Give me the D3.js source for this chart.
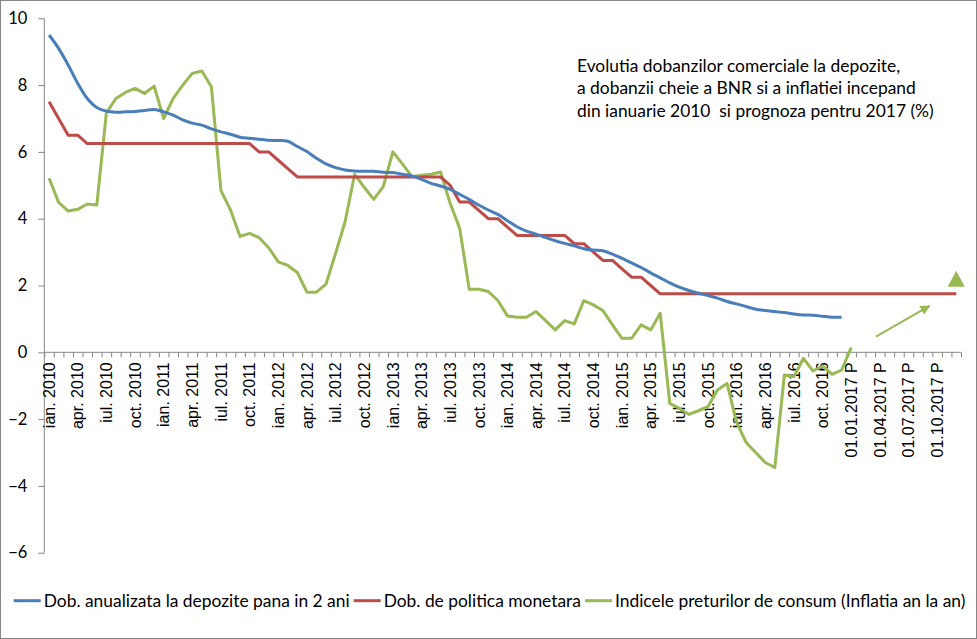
<!DOCTYPE html>
<html><head><meta charset="utf-8">
<script src="https://cdn.jsdelivr.net/npm/d3@7"></script>
<style>
html,body{margin:0;padding:0;background:#fff;}
svg{display:block;}
</style></head>
<body>
<svg id="chart" width="977" height="639"></svg>
<script>
// ---------- DATA ----------
const monthNames = ["ian.","feb.","mar.","apr.","mai","iun.","iul.","aug.","sep.","oct.","nov.","dec."];
const years = [2010, 2011, 2012, 2013, 2014, 2015, 2016];
const forecastLabels = ["01.01.2017 P","01.02.2017 P","01.03.2017 P","01.04.2017 P","01.05.2017 P","01.06.2017 P",
                        "01.07.2017 P","01.08.2017 P","01.09.2017 P","01.10.2017 P","01.11.2017 P","01.12.2017 P"];
const categories = years.flatMap(yr => monthNames.map(m => m + " " + yr)).concat(forecastLabels);

const yTicks = [-6, -4, -2, 0, 2, 4, 6, 8, 10];

const seriesNames = [
  "Dob. anualizata la depozite pana in 2 ani",
  "Dob. de politica monetara",
  "Indicele preturilor de consum (Inflatia an la an)"
];

// Dob. anualizata la depozite pana in 2 ani (ian. 2010 - dec. 2016)
const depositRate = [
  9.50, 9.10, 8.60, 8.05, 7.60, 7.33, 7.22, 7.19, 7.20, 7.21, 7.24, 7.27,
  7.20, 7.10, 6.96, 6.86, 6.80, 6.69, 6.60, 6.53, 6.44, 6.41, 6.38, 6.35,
  6.34, 6.32, 6.16, 6.01, 5.81, 5.64, 5.53, 5.46, 5.43, 5.42, 5.42, 5.39,
  5.38, 5.33, 5.28, 5.18, 5.06, 4.98, 4.88, 4.73, 4.58, 4.41, 4.26, 4.13,
  3.94, 3.76, 3.63, 3.54, 3.44, 3.34, 3.26, 3.19, 3.10, 3.06, 3.04, 2.94,
  2.81, 2.68, 2.54, 2.38, 2.23, 2.08, 1.95, 1.85, 1.77, 1.70, 1.62, 1.52,
  1.45, 1.37, 1.29, 1.25, 1.22, 1.19, 1.15, 1.12, 1.11, 1.08, 1.05, 1.05
];

// Dob. de politica monetara (ian. 2010 - dec. 2017)
const policyRate = [
  7.50, 7.00, 6.50, 6.50, 6.25, 6.25, 6.25, 6.25, 6.25, 6.25, 6.25, 6.25,
  6.25, 6.25, 6.25, 6.25, 6.25, 6.25, 6.25, 6.25, 6.25, 6.25, 6.00, 6.00,
  5.75, 5.50, 5.25, 5.25, 5.25, 5.25, 5.25, 5.25, 5.25, 5.25, 5.25, 5.25,
  5.25, 5.25, 5.25, 5.25, 5.25, 5.25, 5.00, 4.50, 4.50, 4.25, 4.00, 4.00,
  3.75, 3.50, 3.50, 3.50, 3.50, 3.50, 3.50, 3.25, 3.25, 3.00, 2.75, 2.75,
  2.50, 2.25, 2.25, 2.00, 1.75, 1.75, 1.75, 1.75, 1.75, 1.75, 1.75, 1.75,
  1.75, 1.75, 1.75, 1.75, 1.75, 1.75, 1.75, 1.75, 1.75, 1.75, 1.75, 1.75,
  1.75, 1.75, 1.75, 1.75, 1.75, 1.75, 1.75, 1.75, 1.75, 1.75, 1.75, 1.75
];

// Indicele preturilor de consum (ian. 2010 - ian. 2017)
const cpi = [
  5.21, 4.49, 4.23, 4.28, 4.44, 4.41, 7.17, 7.60, 7.78, 7.90, 7.75, 7.97,
  7.00, 7.60, 8.00, 8.35, 8.42, 7.95, 4.84, 4.26, 3.47, 3.56, 3.43, 3.13,
  2.71, 2.60, 2.39, 1.80, 1.80, 2.04, 2.96, 3.91, 5.33, 4.94, 4.58, 4.96,
  6.00, 5.64, 5.26, 5.30, 5.33, 5.40, 4.46, 3.71, 1.89, 1.89, 1.82, 1.55,
  1.09, 1.05, 1.05, 1.22, 0.95, 0.67, 0.95, 0.85, 1.55, 1.42, 1.25, 0.82,
  0.42, 0.42, 0.82, 0.67, 1.17, -1.53, -1.68, -1.86, -1.75, -1.63, -1.13, -0.93,
  -2.10, -2.70, -3.00, -3.30, -3.45, -0.68, -0.73, -0.18, -0.56, -0.41, -0.66, -0.53,
  0.14
];

// Prognoza inflatiei (marker) – category index and value
const forecastMarker = [{idx: 95, value: 2.2}];
// Annotation arrow (category-index units, value units)
const arrowFrom = [86.6, 0.47];
const arrowTo = [92.2, 1.39];

const titleLines = [
  "Evolutia dobanzilor comerciale la depozite,",
  "a dobanzii cheie a BNR si a inflatiei incepand",
  "din ianuarie 2010  si prognoza pentru 2017 (%)"
];

// ---------- STYLE ----------
const colors = ["#4A7EBB", "#BE4B48", "#98B954"];
const axisColor = "#868686";
const font = "Lato, 'Noto Sans', sans-serif";
const labelFont = "'Liberation Sans', Arial, sans-serif";

// ---------- DRAW ----------
const svg = d3.select("#chart");
const W = 977, H = 639;
const plotL = 44.3, plotR = 961, plotT = 18.3, plotB = 552.7;

svg.append("rect").attr("x", 0.5).attr("y", 0.5).attr("width", W - 1).attr("height", H - 1)
  .attr("fill", "#fff").attr("stroke", axisColor).attr("stroke-width", 1);

const x = d3.scaleBand().domain(categories).range([plotL, plotR]).padding(0);
const xIdx = d3.scaleLinear().domain([-0.5, categories.length - 0.5]).range([plotL, plotR]);
const y = d3.scaleLinear().domain([-6, 10]).range([plotB, plotT]);
const cx = i => x(categories[i]) + x.bandwidth() / 2;

// Y axis
const yAxis = svg.append("g").attr("transform", `translate(${plotL},0)`)
  .call(d3.axisLeft(y).tickValues(yTicks).tickSize(6).tickPadding(11).tickFormat(d3.format("d")));
yAxis.select(".domain").attr("stroke", axisColor).attr("d", `M0,${plotT}V${plotB}`);
yAxis.selectAll(".tick line").attr("stroke", axisColor);
yAxis.selectAll(".tick text").attr("fill", "#000").style("font-family", font).style("font-size", "16.5px");

// X axis (at zero) with tick marks on category boundaries
const xBoundaries = d3.scaleLinear().domain([0, categories.length]).range([plotL, plotR]);
const xAxis = svg.append("g").attr("transform", `translate(0,${y(0)})`)
  .call(d3.axisBottom(xBoundaries).tickValues(d3.range(0, categories.length + 1)).tickSize(5).tickFormat(""));
xAxis.select(".domain").attr("stroke", axisColor).attr("d", `M${plotL},0H${plotR}`);
xAxis.selectAll(".tick line").attr("stroke", axisColor);

// X labels (every 3rd category), rotated
svg.append("g").selectAll("text")
  .data(categories.map((c, i) => ({c, i})).filter(d => d.i % 3 === 0))
  .join("text")
  .attr("transform", d => `translate(${cx(d.i)},${y(0) + 10}) rotate(-90)`)
  .attr("text-anchor", "end")
  .attr("dy", "0.36em")
  .style("font-family", labelFont)
  .style("font-size", "16px")
  .attr("fill", "#000")
  .text(d => d.c);

// Lines
const lineStraight = d3.line().x((d, i) => cx(i)).y(d => y(d));
const lineSmooth = d3.line().x((d, i) => cx(i)).y(d => y(d)).curve(d3.curveCatmullRom.alpha(0.5));

svg.append("path").datum(cpi).attr("d", lineStraight)
  .attr("fill", "none").attr("stroke", colors[2]).attr("stroke-width", 3).attr("stroke-linejoin", "round");
svg.append("path").datum(policyRate).attr("d", lineStraight)
  .attr("fill", "none").attr("stroke", colors[1]).attr("stroke-width", 3).attr("stroke-linejoin", "round");
svg.append("path").datum(depositRate).attr("d", lineSmooth)
  .attr("fill", "none").attr("stroke", colors[0]).attr("stroke-width", 3).attr("stroke-linejoin", "round");

// Forecast triangle marker
svg.append("g").selectAll("path").data(forecastMarker).join("path")
  .attr("d", d => {
    const px = cx(d.idx), py = y(d.value), w = 17, h = 16;
    return `M${px},${py - h / 2}L${px + w / 2},${py + h / 2}L${px - w / 2},${py + h / 2}Z`;
  })
  .attr("fill", colors[2]);

// Annotation arrow
const defs = svg.append("defs");
defs.append("marker").attr("id", "arrowHead").attr("viewBox", "0 0 10 10")
  .attr("refX", 9).attr("refY", 5).attr("markerWidth", 5).attr("markerHeight", 5)
  .attr("orient", "auto")
  .append("path").attr("d", "M0,0L10,5L0,10Z").attr("fill", colors[2]);
svg.append("line")
  .attr("x1", xIdx(arrowFrom[0])).attr("y1", y(arrowFrom[1]))
  .attr("x2", xIdx(arrowTo[0])).attr("y2", y(arrowTo[1]))
  .attr("stroke", colors[2]).attr("stroke-width", 2).attr("marker-end", "url(#arrowHead)");

// Title
svg.append("g").selectAll("text").data(titleLines).join("text")
  .attr("x", 577).attr("y", (d, i) => 71.7 + i * 22.5)
  .style("font-family", font).style("font-size", "17.4px").style("white-space", "pre")
  .attr("fill", "#000")
  .text(d => d);

// Legend
const legend = svg.append("g").attr("transform", "translate(0,600.7)");
let lx = 13.7;
seriesNames.forEach((name, i) => {
  legend.append("line").attr("x1", lx).attr("x2", lx + 27).attr("y1", 0).attr("y2", 0)
    .attr("stroke", colors[i]).attr("stroke-width", 3);
  const t = legend.append("text").attr("x", lx + 30).attr("y", 0).attr("dy", "0.35em")
    .style("font-family", font).style("font-size", "17.4px").attr("fill", "#000").text(name);
  lx += 30 + t.node().getComputedTextLength() + 4;
});
</script>
</body></html>
